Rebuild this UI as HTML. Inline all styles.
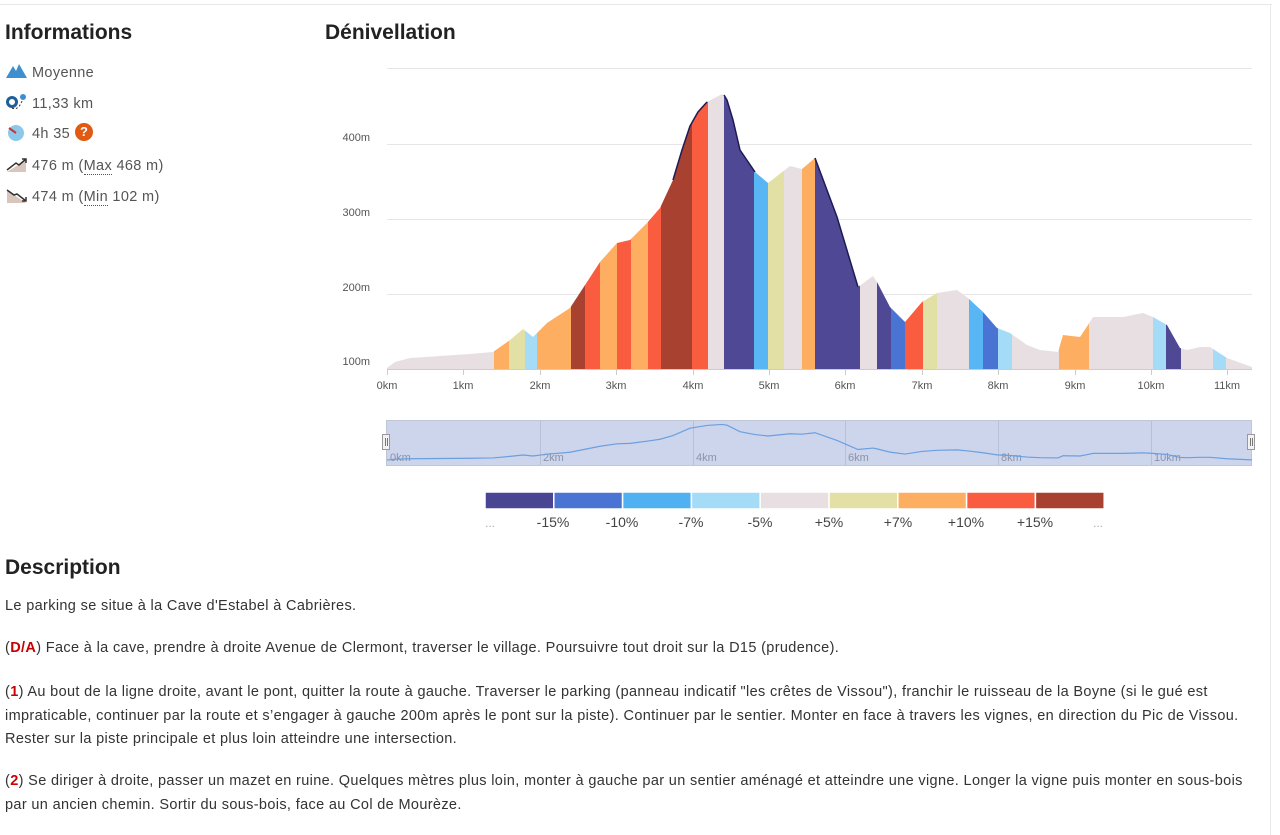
<!DOCTYPE html>
<html><head><meta charset="utf-8"><style>
body{margin:0;width:1280px;height:835px;overflow:hidden;background:#fff;font-family:"Liberation Sans",sans-serif;color:#333;position:relative}
.h{position:absolute;font-weight:bold;font-size:21px;color:#222}
.info{position:absolute;left:32px;font-size:14.5px;letter-spacing:0.35px;color:#555}
.ic{position:absolute;left:6px}
.desc{position:absolute;left:5px;font-size:14.5px;letter-spacing:0.35px;color:#333;line-height:23.5px;width:1262px}
.desc b{color:#c00}
u{text-decoration:none;border-bottom:1px dotted #555}
</style></head><body>
<div style="position:absolute;left:0;top:4px;width:1272px;height:1px;background:#e8e8e8"></div>
<div style="position:absolute;left:1270px;top:4px;width:1px;height:831px;background:#e8e8e8"></div>
<div class="h" style="left:5px;top:21px">Informations</div>
<div class="h" style="left:325px;top:21px">Dénivellation</div>

<svg class="ic" style="top:63px" width="22" height="16"><path d="M0 15 L7 3 L10 8 L13 1 L21 15Z" fill="#3d8fd0"/></svg>
<div class="info" style="top:65px">Moyenne</div>
<svg class="ic" style="top:93px" width="22" height="20"><circle cx="6" cy="9" r="4.5" fill="none" stroke="#1f5f9a" stroke-width="3"/><circle cx="17" cy="4" r="3" fill="#3d8fd0"/><path d="M6 15 Q12 18 16 8" stroke="#333" fill="none" stroke-dasharray="2 2"/></svg>
<div class="info" style="top:96px">11,33 km</div>
<svg class="ic" style="top:124px" width="22" height="18"><circle cx="10" cy="9" r="8" fill="#8cc8ea"/><path d="M3 4 L10 9" stroke="#c33" stroke-width="2"/></svg>
<div class="info" style="top:126px">4h 35</div>
<div style="position:absolute;left:75px;top:123px;width:18px;height:18px;border-radius:9px;background:#e05a12;color:#fff;font-weight:bold;font-size:13px;text-align:center;line-height:18px">?</div>
<svg class="ic" style="top:155px" width="22" height="18"><path d="M1 17 L20 5 L20 17Z" fill="#d8c6bd"/><path d="M1 15 L10 8 L13 10 L20 4 M16 4 L20 4 L20 8" stroke="#333" stroke-width="1.5" fill="none"/></svg>
<div class="info" style="top:158px">476 m (<u>Max</u> 468 m)</div>
<svg class="ic" style="top:186px" width="22" height="18"><path d="M1 4 L20 17 L1 17Z" fill="#d8c6bd"/><path d="M1 4 L8 9 L11 8 L20 15 M16 15 L20 15 L20 11" stroke="#333" stroke-width="1.5" fill="none"/></svg>
<div class="info" style="top:189px">474 m (<u>Min</u> 102 m)</div>

<svg style="position:absolute;left:0;top:0" width="1280" height="540">
<defs>
<clipPath id="cp"><path d="M387 368 L395 362 L410 358 L440 356 L470 354 L493 352 L510 340 L523 329 L533 337 L547 323 L570 308 L587 282 L600 262 L617 243 L630 240 L647 223 L660 208 L673 180 L682 150 L690 126 L698 112 L707 102 L722 94 L727 100 L733 120 L740 150 L755 172 L768 183 L790 166 L802 169 L815 158 L837 217 L858 287 L873 276 L877 282 L890 307 L905 322 L922 302 L937 293 L957 290 L968 298 L983 312 L997 328 L1010 333 L1027 345 L1040 350 L1058 352 L1063 335 L1080 337 L1088 325 L1093 317 L1123 317 L1143 313 L1153 317 L1167 325 L1180 348 L1187 350 L1200 347 L1210 347 L1227 358 L1252 367 L1252 369 L387 369Z"/></clipPath>
</defs>
<g stroke="#e6e6e6" stroke-width="1"><line x1="387" y1="68.5" x2="1252" y2="68.5"/><line x1="387" y1="144.5" x2="1252" y2="144.5"/><line x1="387" y1="219.5" x2="1252" y2="219.5"/><line x1="387" y1="294.5" x2="1252" y2="294.5"/></g>
<g font-size="11" fill="#555" text-anchor="end"><text x="370" y="141">400m</text><text x="370" y="216">300m</text><text x="370" y="291">200m</text><text x="370" y="365">100m</text></g>
<g clip-path="url(#cp)">
<rect x="387" y="80" width="107" height="290" fill="#e8dfe3"/>
<rect x="494" y="80" width="15" height="290" fill="#fdae61"/>
<rect x="509" y="80" width="16" height="290" fill="#e3e0a6"/>
<rect x="525" y="80" width="12" height="290" fill="#a4dcf8"/>
<rect x="537" y="80" width="34" height="290" fill="#fdae61"/>
<rect x="571" y="80" width="14" height="290" fill="#a8412f"/>
<rect x="585" y="80" width="15" height="290" fill="#fa5c3f"/>
<rect x="600" y="80" width="17" height="290" fill="#fdae61"/>
<rect x="617" y="80" width="14" height="290" fill="#fa5c3f"/>
<rect x="631" y="80" width="17" height="290" fill="#fdae61"/>
<rect x="648" y="80" width="13" height="290" fill="#fa5c3f"/>
<rect x="661" y="80" width="31" height="290" fill="#a8412f"/>
<rect x="692" y="80" width="16" height="290" fill="#fa5c3f"/>
<rect x="708" y="80" width="16" height="290" fill="#e8dfe3"/>
<rect x="724" y="80" width="30" height="290" fill="#4e4895"/>
<rect x="754" y="80" width="14" height="290" fill="#58b6f5"/>
<rect x="768" y="80" width="16" height="290" fill="#e3e0a6"/>
<rect x="784" y="80" width="18" height="290" fill="#e8dfe3"/>
<rect x="802" y="80" width="13" height="290" fill="#fdae61"/>
<rect x="815" y="80" width="45" height="290" fill="#4e4895"/>
<rect x="860" y="80" width="17" height="290" fill="#e8dfe3"/>
<rect x="877" y="80" width="14" height="290" fill="#4e4895"/>
<rect x="891" y="80" width="14" height="290" fill="#4a74d4"/>
<rect x="905" y="80" width="18" height="290" fill="#fa5c3f"/>
<rect x="923" y="80" width="14" height="290" fill="#e3e0a6"/>
<rect x="937" y="80" width="32" height="290" fill="#e8dfe3"/>
<rect x="969" y="80" width="14" height="290" fill="#58b6f5"/>
<rect x="983" y="80" width="15" height="290" fill="#4a74d4"/>
<rect x="998" y="80" width="14" height="290" fill="#a4dcf8"/>
<rect x="1012" y="80" width="47" height="290" fill="#e8dfe3"/>
<rect x="1059" y="80" width="30" height="290" fill="#fdae61"/>
<rect x="1089" y="80" width="64" height="290" fill="#e8dfe3"/>
<rect x="1153" y="80" width="13" height="290" fill="#a4dcf8"/>
<rect x="1166" y="80" width="15" height="290" fill="#4e4895"/>
<rect x="1181" y="80" width="32" height="290" fill="#e8dfe3"/>
<rect x="1213" y="80" width="13" height="290" fill="#a4dcf8"/>
<rect x="1226" y="80" width="30" height="290" fill="#e8dfe3"/>
</g>
<path d="M673 180 L682 150 L690 126 L698 112 L707 102 M724 95 L727 100 L733 120 L740 150 L755 172" stroke="#1e1a55" stroke-width="1.5" fill="none"/>
<path d="M815 158 L837 217 L858 287" stroke="#1e1a55" stroke-width="1.5" fill="none"/>
<line x1="387" y1="369.5" x2="1252" y2="369.5" stroke="#ccc"/>
<g stroke="#ccc"><line x1="387.5" y1="369" x2="387.5" y2="375"/><line x1="463.5" y1="369" x2="463.5" y2="375"/><line x1="540.5" y1="369" x2="540.5" y2="375"/><line x1="616.5" y1="369" x2="616.5" y2="375"/><line x1="693.5" y1="369" x2="693.5" y2="375"/><line x1="769.5" y1="369" x2="769.5" y2="375"/><line x1="845.5" y1="369" x2="845.5" y2="375"/><line x1="922.5" y1="369" x2="922.5" y2="375"/><line x1="998.5" y1="369" x2="998.5" y2="375"/><line x1="1075.5" y1="369" x2="1075.5" y2="375"/><line x1="1151.5" y1="369" x2="1151.5" y2="375"/><line x1="1227.5" y1="369" x2="1227.5" y2="375"/></g>
<g font-size="11" fill="#555" text-anchor="middle"><text x="387" y="389">0km</text><text x="463" y="389">1km</text><text x="540" y="389">2km</text><text x="616" y="389">3km</text><text x="693" y="389">4km</text><text x="769" y="389">5km</text><text x="845" y="389">6km</text><text x="922" y="389">7km</text><text x="998" y="389">8km</text><text x="1075" y="389">9km</text><text x="1151" y="389">10km</text><text x="1227" y="389">11km</text></g>
<rect x="386.5" y="420.5" width="865" height="45" fill="#cdd5ec" stroke="#c0c6d6"/>
<g stroke="#b8c0d4"><line x1="540.5" y1="421" x2="540.5" y2="465"/><line x1="693.5" y1="421" x2="693.5" y2="465"/><line x1="845.5" y1="421" x2="845.5" y2="465"/><line x1="998.5" y1="421" x2="998.5" y2="465"/><line x1="1151.5" y1="421" x2="1151.5" y2="465"/></g>
<g font-size="11" fill="#8a93a8"><text x="390" y="461">0km</text><text x="543" y="461">2km</text><text x="696" y="461">4km</text><text x="848" y="461">6km</text><text x="1001" y="461">8km</text><text x="1154" y="461">10km</text></g>
<path d="M387 368 L395 362 L410 358 L440 356 L470 354 L493 352 L510 340 L523 329 L533 337 L547 323 L570 308 L587 282 L600 262 L617 243 L630 240 L647 223 L660 208 L673 180 L690 123 L707 102 L722 94 L727 100 L740 150 L755 172 L768 183 L790 166 L802 169 L815 158 L837 217 L858 287 L873 276 L877 282 L890 307 L905 322 L922 302 L937 293 L957 290 L968 298 L983 312 L997 328 L1010 333 L1027 345 L1040 350 L1058 352 L1063 335 L1080 337 L1088 325 L1093 317 L1123 317 L1143 313 L1153 317 L1167 325 L1180 348 L1187 350 L1200 347 L1210 347 L1227 358 L1252 367" transform="translate(0,412.2) scale(1,0.13)" fill="none" stroke="#6a9fe0" stroke-width="1.2" vector-effect="non-scaling-stroke"/>
<rect x="382.5" y="434.5" width="7" height="15" fill="#f2f2f2" stroke="#999"/><line x1="385.5" y1="438" x2="385.5" y2="446" stroke="#777"/><line x1="387.5" y1="438" x2="387.5" y2="446" stroke="#777"/>
<rect x="1247.5" y="434.5" width="7" height="15" fill="#f2f2f2" stroke="#999"/><line x1="1250.5" y1="438" x2="1250.5" y2="446" stroke="#777"/><line x1="1252.5" y1="438" x2="1252.5" y2="446" stroke="#777"/>
<g stroke="#fff" stroke-width="1.5">
<rect x="485" y="492" width="68.8" height="17" fill="#4a4592"/>
<rect x="553.8" y="492" width="68.8" height="17" fill="#4a74d4"/>
<rect x="622.6" y="492" width="68.8" height="17" fill="#4fb0f2"/>
<rect x="691.4" y="492" width="68.8" height="17" fill="#a4dcf8"/>
<rect x="760.2" y="492" width="68.8" height="17" fill="#e8dfe3"/>
<rect x="829" y="492" width="68.8" height="17" fill="#e3e0a6"/>
<rect x="897.8" y="492" width="68.8" height="17" fill="#fdae61"/>
<rect x="966.6" y="492" width="68.8" height="17" fill="#fa5c3f"/>
<rect x="1035.4" y="492" width="68.8" height="17" fill="#a8412f"/>
</g>
<g font-size="14" fill="#444" text-anchor="middle"><text x="490" y="527" fill="#aaa" font-size="12">...</text><text x="553" y="527">-15%</text><text x="622" y="527">-10%</text><text x="691" y="527">-7%</text><text x="760" y="527">-5%</text><text x="829" y="527">+5%</text><text x="898" y="527">+7%</text><text x="966" y="527">+10%</text><text x="1035" y="527">+15%</text><text x="1098" y="527" fill="#aaa" font-size="12">...</text></g>
</svg>

<div class="h" style="left:5px;top:556px">Description</div>
<div class="desc" style="top:595px">Le parking se situe à la Cave d'Estabel à Cabrières.</div>
<div class="desc" style="top:637px">(<b>D/A</b>) Face à la cave, prendre à droite Avenue de Clermont, traverser le village. Poursuivre tout droit sur la D15 (prudence).</div>
<div class="desc" style="top:681px">(<b>1</b>) Au bout de la ligne droite, avant le pont, quitter la route à gauche. Traverser le parking (panneau indicatif "les crêtes de Vissou"), franchir le ruisseau de la Boyne (si le gué est impraticable, continuer par la route et s’engager à gauche 200m après le pont sur la piste). Continuer par le sentier. Monter en face à travers les vignes, en direction du Pic de Vissou. Rester sur la piste principale et plus loin atteindre une intersection.</div>
<div class="desc" style="top:770px">(<b>2</b>) Se diriger à droite, passer un mazet en ruine. Quelques mètres plus loin, monter à gauche par un sentier aménagé et atteindre une vigne. Longer la vigne puis monter en sous-bois par un ancien chemin. Sortir du sous-bois, face au Col de Mourèze.</div>
</body></html>
